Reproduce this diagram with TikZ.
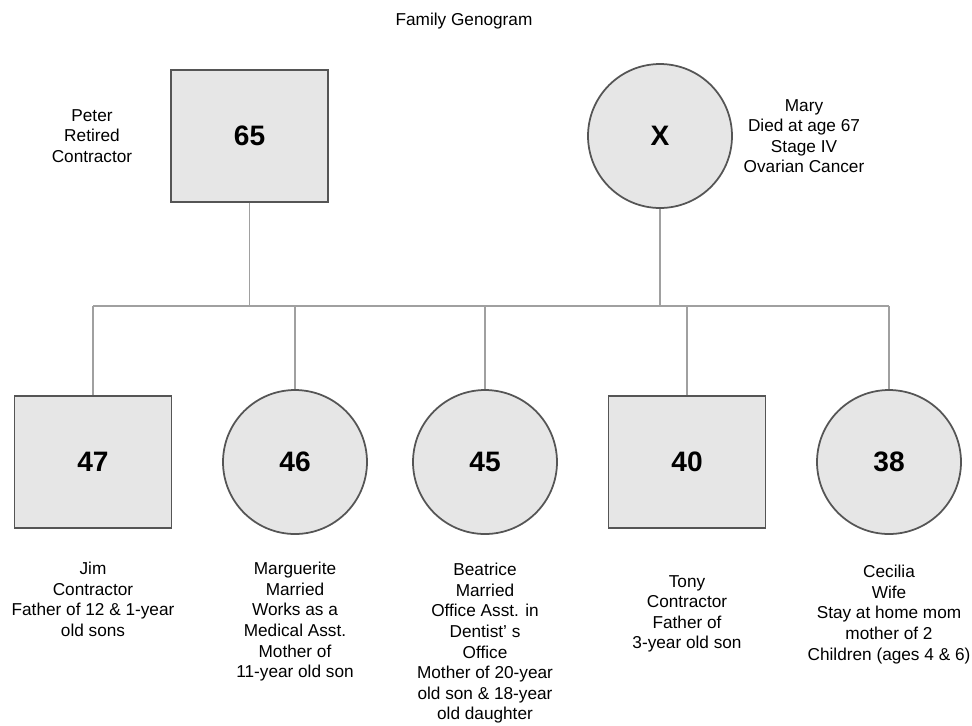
\documentclass[tikz,border=0pt]{standalone}
\usepackage{fontspec}
\setmainfont{Liberation Sans}
\usepackage{xcolor}
\usepackage{tikz}
\usetikzlibrary{positioning,calc}

\definecolor{symfill}{HTML}{E6E6E6}
\definecolor{symline}{HTML}{555555}
\definecolor{linkgray}{HTML}{A0A0A0}

\begin{document}
\begin{tikzpicture}[
  x=0.02cm, y=-0.02cm,
  male/.style={draw=symline, fill=symfill, line width=1pt, minimum width=3.14cm, minimum height=2.64cm, inner sep=0pt, font=\fontsize{16}{18}\selectfont\bfseries},
  female/.style={circle, draw=symline, fill=symfill, line width=1pt, minimum size=2.88cm, inner sep=0pt, font=\fontsize{16}{18}\selectfont\bfseries},
  info/.style={align=center, inner sep=0pt, font=\fontsize{9.8}{11.7}\selectfont},
  link/.style={draw=linkgray, line width=0.9pt}
]
  \useasboundingbox (0,0) rectangle (972,725);

  \node[info, font=\fontsize{9.8}{12}\selectfont] (title) at (464,21) {Family Genogram};

  % parents
  \node[male] (peter) at (249.5,136) {65};
  \node[female] (mary) at (660,136) {X};
  \node[info] (peterinfo) at (92,136) {Peter\\Retired\\Contractor};
  \node[info] (maryinfo) at (804,136) {Mary\\Died at age 67\\Stage IV\\Ovarian Cancer};

  % children
  \node[male] (jim) at (93,462) {47};
  \node[female] (marguerite) at (295,462) {46};
  \node[female] (beatrice) at (485,462) {45};
  \node[male] (tony) at (687,462) {40};
  \node[female] (cecilia) at (889,462) {38};

  \node[info, anchor=north] (jiminfo) at (93,562) {Jim\\Contractor\\Father of 12 \& 1-year\\old sons};
  \node[info, anchor=north] (marguinfo) at (295,562) {Marguerite\\Married\\Works as a\\Medical Asst.\\Mother of\\11-year old son};
  \node[info, anchor=north] (beainfo) at (485,563) {Beatrice\\Married\\Office Asst. in\\Dentist' s\\Office\\Mother of 20-year\\old son \& 18-year\\old daughter};
  \node[info, anchor=north] (tonyinfo) at (687,575) {Tony\\Contractor\\Father of\\3-year old son};
  \node[info, anchor=north] (ceciinfo) at (889,565) {Cecilia\\Wife\\Stay at home mom\\mother of 2\\Children (ages 4 \& 6)};

  % sibling line
  \coordinate (sibl) at (93,306);
  \coordinate (sibr) at (889,306);

  \draw[link] (sibl) -- (sibr);
  \draw[link] (peter.south) -- (peter.south |- sibl);
  \draw[link] (mary.south) -- (mary.south |- sibl);
  \draw[link] (jim.north) -- (jim.north |- sibl);
  \draw[link] (marguerite.north) -- (marguerite.north |- sibl);
  \draw[link] (beatrice.north) -- (beatrice.north |- sibl);
  \draw[link] (tony.north) -- (tony.north |- sibl);
  \draw[link] (cecilia.north) -- (cecilia.north |- sibl);
\end{tikzpicture}
\end{document}
